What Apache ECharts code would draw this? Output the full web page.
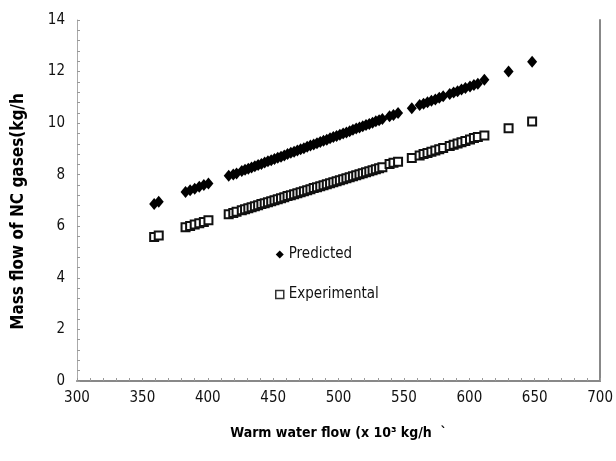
<!DOCTYPE html>
<html>
<head>
<meta charset="utf-8">
<script src="https://cdn.jsdelivr.net/npm/echarts@6/dist/echarts.min.js"></script>
<style>html,body{margin:0;padding:0;background:#fff;}#c{width:616px;height:461px;}</style>
</head>
<body>
<div id="c"></div>
<script>
var xValues = [359, 362.5,
  383, 386.5, 390, 393.5, 397, 400.5,
  416, 419.5, 422,
  426, 428.5, 431, 433.5, 436, 438.5, 441, 443.5, 446, 448.5, 451, 453.5, 456, 458.5, 461, 463.5,
  466, 468.5, 471, 473.5, 476, 478.5, 481, 483.5, 486, 488.5, 491, 493.5, 496, 498.5, 501, 503.5,
  506, 508.5, 511, 513.5, 516, 518.5, 521, 523.5, 526, 528.5, 531, 533.5,
  539, 542, 545.5, 556,
  562, 565, 568, 571, 574, 577, 580,
  585, 588, 591, 594, 597, 600.5, 603.5, 606.5, 611.5,
  630, 648];
var predicted = [6.86, 6.95,
  7.33, 7.40, 7.46, 7.53, 7.60, 7.66,
  7.96, 8.01, 8.05,
  8.14, 8.19, 8.23, 8.28, 8.33, 8.38, 8.42, 8.47, 8.52, 8.56, 8.61, 8.66, 8.70, 8.75, 8.80, 8.85,
  8.89, 8.94, 8.99, 9.03, 9.08, 9.13, 9.17, 9.22, 9.27, 9.32, 9.36, 9.41, 9.46, 9.50, 9.55, 9.60,
  9.64, 9.69, 9.74, 9.79, 9.83, 9.88, 9.93, 9.97, 10.02, 10.07, 10.11, 10.16,
  10.27, 10.32, 10.39, 10.58,
  10.70, 10.75, 10.81, 10.87, 10.92, 10.98, 11.04,
  11.13, 11.19, 11.24, 11.30, 11.36, 11.42, 11.48, 11.53, 11.68,
  12.00, 12.38];
var experimental = [5.58, 5.64,
  5.96, 6.01, 6.07, 6.12, 6.17, 6.23,
  6.47, 6.52, 6.56,
  6.62, 6.66, 6.70, 6.74, 6.78, 6.82, 6.86, 6.89, 6.93, 6.97, 7.01, 7.05, 7.09, 7.13, 7.17, 7.20,
  7.24, 7.28, 7.32, 7.36, 7.40, 7.44, 7.48, 7.51, 7.55, 7.59, 7.63, 7.67, 7.71, 7.75, 7.79, 7.82,
  7.86, 7.90, 7.94, 7.98, 8.02, 8.06, 8.10, 8.13, 8.17, 8.21, 8.25, 8.29,
  8.42, 8.46, 8.50, 8.65,
  8.75, 8.80, 8.84, 8.89, 8.94, 8.99, 9.04,
  9.11, 9.16, 9.21, 9.26, 9.31, 9.37, 9.42, 9.46, 9.52,
  9.80, 10.06];
var seriesNames = ['Predicted', 'Experimental'];
var xTitle = 'Warm water flow (x 10\u00b3 kg/h  `';
var yTitle = 'Mass flow of NC gases(kg/h';

function pairs(ys) { return xValues.map(function (x, i) { return [x, ys[i]]; }); }

var font = "'Liberation Sans Narrow', 'DejaVu Sans Condensed', 'Liberation Sans', sans-serif";
var chart = echarts.init(document.getElementById('c'), null, {renderer: 'canvas'});
chart.setOption({
  backgroundColor: '#fff',
  animation: false,
  grid: {left: 77, right: 15, top: 20, bottom: 80},
  legend: {
    orient: 'vertical', left: 270, top: 242, itemGap: 25,
    itemWidth: 8, itemHeight: 8,
    textStyle: {fontFamily: font, fontSize: 15, color: '#111'},
    data: [
      {name: seriesNames[0], icon: 'diamond', itemStyle: {color: '#000', borderWidth: 0}},
      {name: seriesNames[1], icon: 'rect', itemStyle: {color: '#fff', borderColor: '#333', borderWidth: 1.5}}
    ]
  },
  xAxis: [{
    type: 'value', min: 300, max: 700, interval: 50,
    name: xTitle, nameLocation: 'middle', nameGap: 45,
    nameTextStyle: {fontFamily: font, fontSize: 14, fontWeight: 'bold', color: '#000'},
    axisLine: {lineStyle: {color: '#aaa', width: 1}},
    axisTick: {inside: true, length: 3, lineStyle: {color: '#999'}},
    minorTick: {show: true, splitNumber: 5, length: 3, lineStyle: {color: '#999'}},
    splitLine: {show: false},
    axisLabel: {fontFamily: font, fontSize: 15, color: '#111', margin: 10}
  }, {
    type: 'value', min: 300, max: 700, position: 'top',
    axisLine: {show: true, lineStyle: {color: '#888', width: 2}},
    axisTick: {show: false}, axisLabel: {show: false}, splitLine: {show: false}
  }],
  yAxis: [{
    type: 'value', min: 0, max: 14, interval: 2,
    name: yTitle, nameLocation: 'middle', nameGap: 50,
    nameTextStyle: {fontFamily: font, fontSize: 17, fontWeight: 'bold', color: '#000', padding: [0, 22, 0, 0]},
    axisLine: {show: true, lineStyle: {color: '#aaa', width: 1}},
    axisTick: {inside: true, length: 3, lineStyle: {color: '#999'}},
    minorTick: {show: true, splitNumber: 5, length: 3, lineStyle: {color: '#999'}},
    splitLine: {show: false},
    axisLabel: {fontFamily: font, fontSize: 15, color: '#111', margin: 12}
  }, {
    type: 'value', min: 0, max: 14, position: 'right',
    axisLine: {show: true, lineStyle: {color: '#888', width: 2}},
    axisTick: {show: false}, axisLabel: {show: false}, splitLine: {show: false}
  }],
  series: [{
    name: seriesNames[0], type: 'scatter', symbol: 'diamond', symbolSize: [10, 12],
    itemStyle: {color: '#000', opacity: 1},
    data: pairs(predicted)
  }, {
    name: seriesNames[1], type: 'scatter', symbol: 'rect', symbolSize: 8,
    itemStyle: {color: '#fff', borderColor: '#111', borderWidth: 2, opacity: 1},
    data: pairs(experimental)
  }]
});
</script>
</body>
</html>
